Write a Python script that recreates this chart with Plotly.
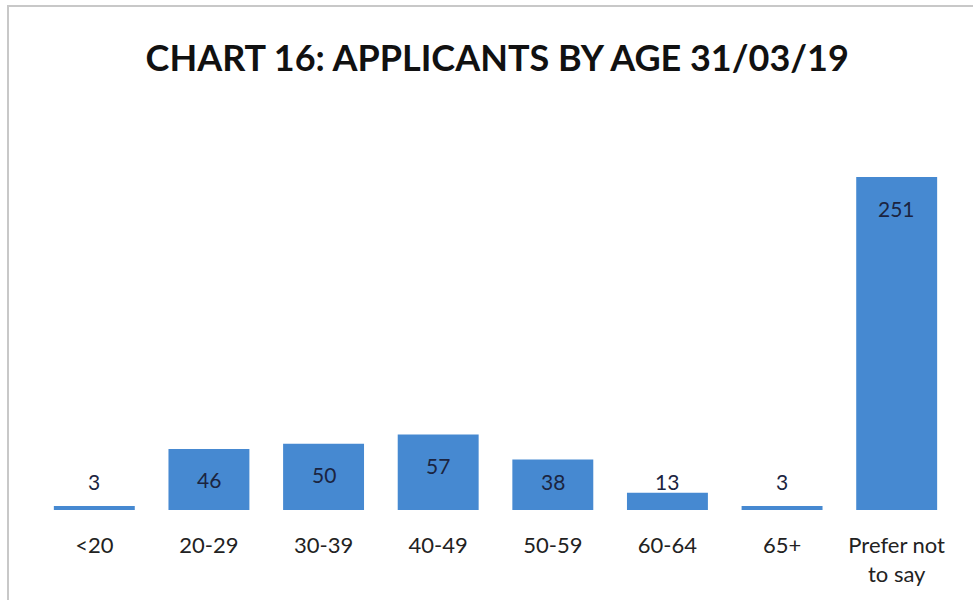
import plotly.graph_objects as go

categories = ["<20", "20-29", "30-39", "40-49", "50-59", "60-64", "65+", "Prefer not<br>to say"]
values = [3, 46, 50, 57, 38, 13, 3, 251]
title_text = "CHART 16: APPLICANTS BY AGE 31/03/19"

W, H = 973, 600
ML, MR, MT, MB = 37, 19, 177, 90
plot_h = H - MT - MB
ymax = max(values)
ppu = plot_h / ymax

fig = go.Figure()
fig.add_trace(go.Bar(
    x=categories, y=values,
    marker=dict(color="#4689D1", line=dict(width=0)),
    hoverinfo="x+y",
))

font_family = "Lato, 'Open Sans', sans-serif"
for c, v in zip(categories, values):
    if v * ppu >= 60:
        fig.add_annotation(x=c, y=v, yshift=-31, text=str(v), showarrow=False,
                           yanchor="middle", font=dict(size=21, color="#1B2440", family=font_family))
    else:
        fig.add_annotation(x=c, y=0, yshift=29, text=str(v), showarrow=False,
                           yanchor="middle", font=dict(size=21, color="#1B2440", family=font_family))

# chart frame (top and left edges)
fig.add_shape(type="line", xref="paper", yref="paper",
              x0=(7 - ML) / (W - ML - MR), x1=(W - ML) / (W - ML - MR),
              y0=(H - MB - 6) / plot_h, y1=(H - MB - 6) / plot_h,
              line=dict(color="#C8C8C8", width=2))
fig.add_shape(type="line", xref="paper", yref="paper",
              x0=(8 - ML) / (W - ML - MR), x1=(8 - ML) / (W - ML - MR),
              y0=(H - MB - 6) / plot_h, y1=(H - MB - H) / plot_h,
              line=dict(color="#C8C8C8", width=2))

fig.update_layout(
    width=W, height=H,
    margin=dict(l=ML, r=MR, t=MT, b=MB),
    paper_bgcolor="white", plot_bgcolor="white",
    bargap=0.294,
    showlegend=False,
    title=dict(text="<b>" + title_text + "</b>", x=0.511, xanchor="center",
               y=1 - 58 / H, yanchor="middle",
               font=dict(size=36, color="#111111", family=font_family)),
    xaxis=dict(showline=False, showgrid=False, zeroline=False, ticks="",
               tickfont=dict(size=22, color="#222222", family=font_family),
               ticklabelstandoff=20),
    yaxis=dict(range=[0, ymax], visible=False, showgrid=False, zeroline=False),
)

fig.write_html("out.html")
